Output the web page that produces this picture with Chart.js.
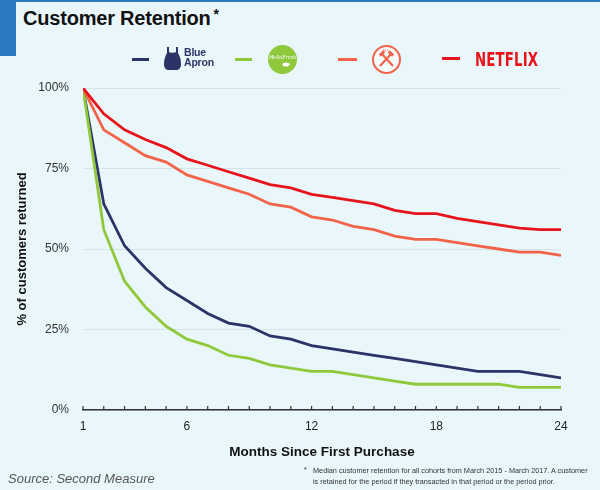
<!DOCTYPE html>
<html>
<head>
<meta charset="utf-8">
<script src="https://cdn.jsdelivr.net/npm/chart.js@4.4.1/dist/chart.umd.min.js"></script>
<style>
  html, body { margin:0; padding:0; }
  body { width:600px; height:490px; background:#e9f7fb; position:relative; overflow:hidden;
         font-family:"Liberation Sans", Arial, Helvetica, sans-serif; }
  #topline { position:absolute; left:0; top:0; width:600px; height:2px; background:#2a79c1; }
  #sidebar { position:absolute; left:0; top:0; width:16px; height:56px; background:#2a79c1; }
  #title { position:absolute; left:23px; top:6px; font-size:20px; font-weight:bold; color:#111; letter-spacing:-0.2px; white-space:nowrap; }
  #title sup { font-size:14px; vertical-align:6px; margin-left:3px; }
  .lg { position:absolute; height:3px; }
  #cwrap { position:absolute; left:0; top:0; width:600px; height:490px; }
  #source { position:absolute; left:8px; top:471px; font-size:13px; font-style:italic; color:#555; white-space:nowrap; }
  #note { position:absolute; left:304px; top:465px; font-size:7.3px; line-height:11px; color:#333; white-space:nowrap; }
  #note .star { position:absolute; left:0; top:-1px; }
  #note .txt { position:absolute; left:9px; top:0; }
  #ba { position:absolute; left:184px; top:47px; font-size:10.5px; line-height:10px; font-weight:bold; color:#2b3467; letter-spacing:-0.2px; }
  #nf { position:absolute; left:475px; top:48px; font-size:19px; font-weight:bold; color:#e8141c; letter-spacing:0.2px;
        font-family:"Liberation Sans Narrow","DejaVu Sans Condensed","Liberation Sans",sans-serif; transform:scaleX(0.78); transform-origin:left top; }
  svg.ic { position:absolute; }
</style>
</head>
<body>
<div id="topline"></div>
<div id="sidebar"></div>
<div id="title">Customer Retention<sup>*</sup></div>

<div id="cwrap"><canvas id="c" width="600" height="490"></canvas></div>

<!-- legend -->
<div class="lg" style="left:132px;top:58px;width:17px;background:#2b3467"></div>
<svg class="ic" style="left:164px;top:47px" width="17" height="23" viewBox="0 0 17 23">
  <path d="M3 0 h2 v5 c1 1 6 1 7 0 v-5 h2 v6 c2 3 3 7 3 11 c0 4 -2 6 -5 6 h-7 c-3 0 -5 -2 -5 -6 c0 -4 1 -8 3 -11 z" fill="#2b3467"/>
</svg>
<div id="ba">Blue<br>Apron</div>

<div class="lg" style="left:235px;top:58px;width:17px;background:#8fc83a"></div>
<svg class="ic" style="left:267px;top:44px" width="31" height="31" viewBox="0 0 31 31">
  <circle cx="15.5" cy="15.5" r="14.5" fill="#8fc83a"/>
  <text x="15.5" y="15" font-size="6" font-style="italic" fill="#fff" text-anchor="middle" font-family="Liberation Serif, serif">HelloFresh</text>
  <ellipse cx="19" cy="20.5" rx="3.5" ry="2" fill="#fff"/>
</svg>

<div class="lg" style="left:338px;top:58px;width:19px;background:#f1644a"></div>
<svg class="ic" style="left:371px;top:44px" width="31" height="31" viewBox="0 0 31 31">
  <circle cx="15.5" cy="15.5" r="13.5" fill="#f4fbfd" stroke="#f1644a" stroke-width="2"/>
  <line x1="9" y1="22" x2="20" y2="10" stroke="#f1644a" stroke-width="2.2"/>
  <line x1="22" y1="22" x2="11" y2="10" stroke="#f1644a" stroke-width="2.2"/>
  <rect x="8" y="8" width="6" height="3" fill="#f1644a" transform="rotate(-45 11 9.5)"/>
  <rect x="17" y="8" width="6" height="3" fill="#f1644a" transform="rotate(45 20 9.5)"/>
  <text x="15.5" y="8" font-size="4" fill="#f1644a" text-anchor="middle">H C</text>
</svg>

<div class="lg" style="left:442px;top:57px;width:18px;background:#e8141c"></div>
<div id="nf">NETFLIX</div>

<div id="source">Source: Second Measure</div>
<div id="note"><span class="star">*</span><span class="txt">Median customer retention for all cohorts from March 2015 - March 2017. A customer<br>is retained for the period if they transacted in that period or the period prior.</span></div>

<script>
const months = [1,2,3,4,5,6,7,8,9,10,11,12,13,14,15,16,17,18,19,20,21,22,23,24];
const labeledMonths = [1,6,12,18,24];
const yTicks = [0,25,50,75,100];

const blueApron = [100,64,51,44,38,34,30,27,26,23,22,20,19,18,17,16,15,14,13,12,12,12,11,10];
const helloFresh = [100,56,40,32,26,22,20,17,16,14,13,12,12,11,10,9,8,8,8,8,8,7,7,7];
const plated    = [100,87,83,79,77,73,71,69,67,64,63,60,59,57,56,54,53,53,52,51,50,49,49,48];
const netflix   = [100,92,87,84,81.5,78,76,74,72,70,69,67,66,65,64,62,61,61,59.5,58.5,57.5,56.5,56,56];

const seriesNames = ['Blue Apron','HelloFresh','Plated','Netflix'];
const seriesColors = ['#2b3467','#8fc83a','#f1644a','#e8141c'];

const upTicks = {
  id:'upTicks',
  afterDatasetsDraw(chart){
    const xs = chart.scales.x, ys = chart.scales.y;
    const ctx = chart.ctx;
    const yb = ys.getPixelForValue(0);
    ctx.save();
    ctx.strokeStyle = '#333';
    ctx.lineWidth = 1.2;
    months.forEach(m => {
      const px = xs.getPixelForValue(m);
      ctx.beginPath();
      ctx.moveTo(px, yb);
      ctx.lineTo(px, yb - 4);
      ctx.stroke();
    });
    ctx.restore();
  }
};

const data = [blueApron, helloFresh, plated, netflix];
new Chart(document.getElementById('c'), {
  type:'line',
  data:{
    datasets: data.map((arr,i)=>({
      label: seriesNames[i],
      data: arr.map((v,j)=>({x:months[j], y:v})),
      borderColor: seriesColors[i],
      backgroundColor: seriesColors[i],
      borderWidth: 2.8,
      pointRadius: 0,
      tension: 0,
      order: 4-i
    }))
  },
  options:{
    responsive:false,
    animation:false,
    devicePixelRatio: 1,
    layout:{ padding:{ top:88, right:39, bottom:28, left:0 } },
    plugins:{ legend:{display:false}, tooltip:{enabled:false} },
    scales:{
      x:{
        type:'linear', min:1, max:24,
        afterFit(s){ s.height = 52; },
        afterBuildTicks(s){ s.ticks = labeledMonths.map(v=>({value:v})); },
        ticks:{ autoSkip:false, maxRotation:0, padding:1, color:'#222',
                font:{ family:'"Liberation Sans", Arial, sans-serif', size:12 } },
        grid:{ display:false },
        border:{ display:true, color:'#333', width:1.5 },
        title:{ display:true, text:'Months Since First Purchase', color:'#111',
                font:{ family:'"Liberation Sans", Arial, sans-serif', size:13.5, weight:'bold' },
                padding:{ top:0, bottom:2 } }
      },
      y:{
        min:0, max:100,
        afterFit(s){ s.width = 83; },
        afterBuildTicks(s){ s.ticks = yTicks.map(v=>({value:v})); },
        ticks:{ padding:14, color:'#333', callback:v=>v+'%',
                font:{ family:'"Liberation Sans", Arial, sans-serif', size:12 } },
        grid:{ color:'#d3e5ea', lineWidth:1, drawTicks:false },
        border:{ display:false },
        title:{ display:true, text:'% of customers returned', color:'#111',
                font:{ family:'"Liberation Sans", Arial, sans-serif', size:13, weight:'bold' },
                padding:{ top:15, bottom:0 } }
      }
    }
  },
  plugins:[upTicks]
});
</script>
</body>
</html>
